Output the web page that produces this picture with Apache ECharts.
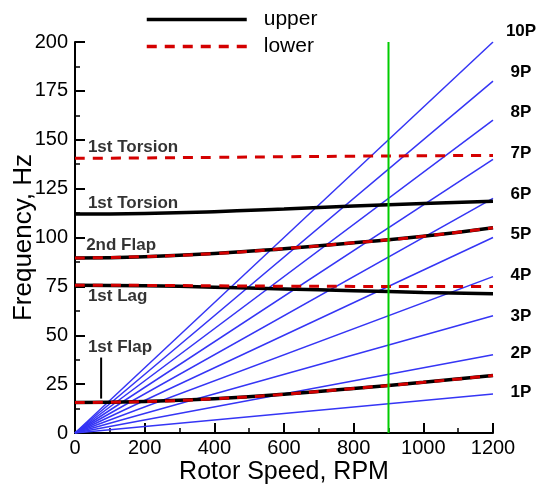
<!DOCTYPE html>
<html>
<head>
<meta charset="utf-8">
<script src="https://cdn.jsdelivr.net/npm/echarts@6/dist/echarts.min.js"></script>
<style>
  html, body { margin: 0; padding: 0; background: #fff; }
  #main { width: 537px; height: 484px; }
</style>
</head>
<body>
<div id="main"></div>
<script>
// rotor speed samples for the mode curves
var rpm = [0, 200, 400, 600, 800, 1000, 1200];

// upper (solid black) frequencies, Hz
var torsionUpper = [112, 112.3, 113.2, 114.6, 116.1, 117.4, 118.5];
var flap2Upper   = [89.5, 90.2, 91.8, 94.3, 97.3, 100.6, 105];
var lagUpper     = [75.6, 75.3, 74.6, 73.7, 72.8, 71.9, 71.2];
var flap1Upper   = [15.6, 16.1, 17.5, 19.8, 22.8, 25.9, 29.4];

// lower (dashed red) frequencies, Hz
var torsionLower = [140.5, 140.7, 141, 141.3, 141.6, 141.8, 142];
var flap2Lower   = [89.5, 90.2, 91.8, 94.3, 97.3, 100.6, 105];
var lagLower     = [75.6, 75.5, 75.3, 75.1, 75, 75, 75];
var flap1Lower   = [15.6, 16.1, 17.5, 19.8, 22.8, 25.9, 29.4];

// per-rev excitation lines nP
var perRev = [1, 2, 3, 4, 5, 6, 7, 8, 9, 10];
var perRevNames = ['1P', '2P', '3P', '4P', '5P', '6P', '7P', '8P', '9P', '10P'];
var perRevLabelShift = [-2, -1, 1, -1, -3, -4, -6, -8, -9, -11];

// operating speed
var opSpeed = 900;

// mode annotations
var annoText = ['1st Torsion', '1st Torsion', '2nd Flap', '1st Lag', '1st Flap'];
var annoX    = [37, 37, 32, 37, 37];
var annoY    = [146.2, 117.5, 96, 70, 43.8];
var flapPointer = [[75, 17.6], [75, 38.6]];

var BLUE = '#3535f5', RED = '#d40000', BLACK = '#000', GREEN = '#00cc00';
var FONT = 'Liberation Sans, Arial, sans-serif';

function zipXY(xs, ys) {
  return xs.map(function (x, i) { return [x, ys[i]]; });
}

var series = [];

perRev.forEach(function (n, i) {
  series.push({
    name: perRevNames[i],
    type: 'line',
    data: [[0, 0], [1200, n * 1200 / 60]],
    symbol: 'none',
    lineStyle: { color: BLUE, width: 1.5 },
    z: 2,
    silent: true,
    endLabel: {
      show: true,
      formatter: perRevNames[i],
      fontFamily: FONT,
      fontWeight: 'bold',
      fontSize: 17,
      color: '#000',
      align: 'center',
      offset: [20, perRevLabelShift[i]]
    }
  });
});

[torsionUpper, flap2Upper, lagUpper, flap1Upper].forEach(function (arr) {
  series.push({
    name: 'upper',
    type: 'line',
    data: zipXY(rpm, arr),
    smooth: true,
    symbol: 'none',
    lineStyle: { color: BLACK, width: 3.5 },
    itemStyle: { color: BLACK },
    z: 3
  });
});

[torsionLower, flap2Lower, lagLower, flap1Lower].forEach(function (arr) {
  series.push({
    name: 'lower',
    type: 'line',
    data: zipXY(rpm, arr),
    smooth: true,
    symbol: 'none',
    lineStyle: { color: RED, width: 3, type: [10, 8] },
    itemStyle: { color: RED },
    z: 4
  });
});

// operating rpm
series.push({
  type: 'line',
  data: [[opSpeed, 0], [opSpeed, 200]],
  symbol: 'none',
  lineStyle: { color: GREEN, width: 2 },
  z: 5
});

// pointer for 1st flap
series.push({
  type: 'line',
  data: flapPointer,
  symbol: 'none',
  lineStyle: { color: BLACK, width: 2 },
  z: 5
});

// mode text labels
series.push({
  type: 'scatter',
  data: zipXY(annoX, annoY).map(function (p, i) {
    return { value: p, name: annoText[i] };
  }),
  symbolSize: 0,
  z: 6,
  label: {
    show: true,
    position: 'right',
    distance: 0,
    formatter: '{b}',
    fontFamily: FONT,
    fontWeight: 'bold',
    fontSize: 17,
    color: '#000'
  }
});

var chart = echarts.init(document.getElementById('main'));
chart.setOption({
  animation: false,
  backgroundColor: '#fff',
  grid: { left: 75, right: 44, top: 42, bottom: 51, outerBoundsMode: 'none' },
  legend: {
    data: ['upper', 'lower'],
    orient: 'vertical',
    left: 140,
    top: 4,
    itemWidth: 100,
    itemHeight: 14,
    itemGap: 6,
    itemStyle: { opacity: 0 },
    lineStyle: { width: 3.5 },
    textStyle: { fontFamily: FONT, fontSize: 21, color: '#000', padding: [0, 0, 0, 12] }
  },
  xAxis: {
    type: 'value',
    min: 0, max: 1200, interval: 200,
    name: 'Rotor Speed, RPM',
    nameLocation: 'middle',
    nameGap: 27,
    nameMoveOverlap: false,
    nameTextStyle: { fontFamily: FONT, fontSize: 25, color: '#000' },
    axisLine: { show: true, lineStyle: { color: '#000', width: 2 } },
    axisTick: { show: true, inside: true, length: 10, lineStyle: { color: '#000', width: 2 } },
    minorTick: { show: true, splitNumber: 2, length: 5, lineStyle: { color: '#000', width: 1.5 } },
    axisLabel: { fontFamily: FONT, fontSize: 20, color: '#000', margin: 5, formatter: function (v) { return String(v); } },
    splitLine: { show: false }
  },
  yAxis: {
    type: 'value',
    min: 0, max: 200, interval: 25,
    name: 'Frequency, Hz',
    nameLocation: 'middle',
    nameGap: 38,
    nameMoveOverlap: false,
    nameTextStyle: { fontFamily: FONT, fontSize: 26, color: '#000' },
    axisLine: { show: true, lineStyle: { color: '#000', width: 2 } },
    axisTick: { show: true, inside: true, length: 10, lineStyle: { color: '#000', width: 2 } },
    minorTick: { show: true, splitNumber: 2, length: 5, lineStyle: { color: '#000', width: 1.5 } },
    axisLabel: { fontFamily: FONT, fontSize: 20, color: '#000', margin: 7 },
    splitLine: { show: false }
  },
  series: series
});
</script>
</body>
</html>
